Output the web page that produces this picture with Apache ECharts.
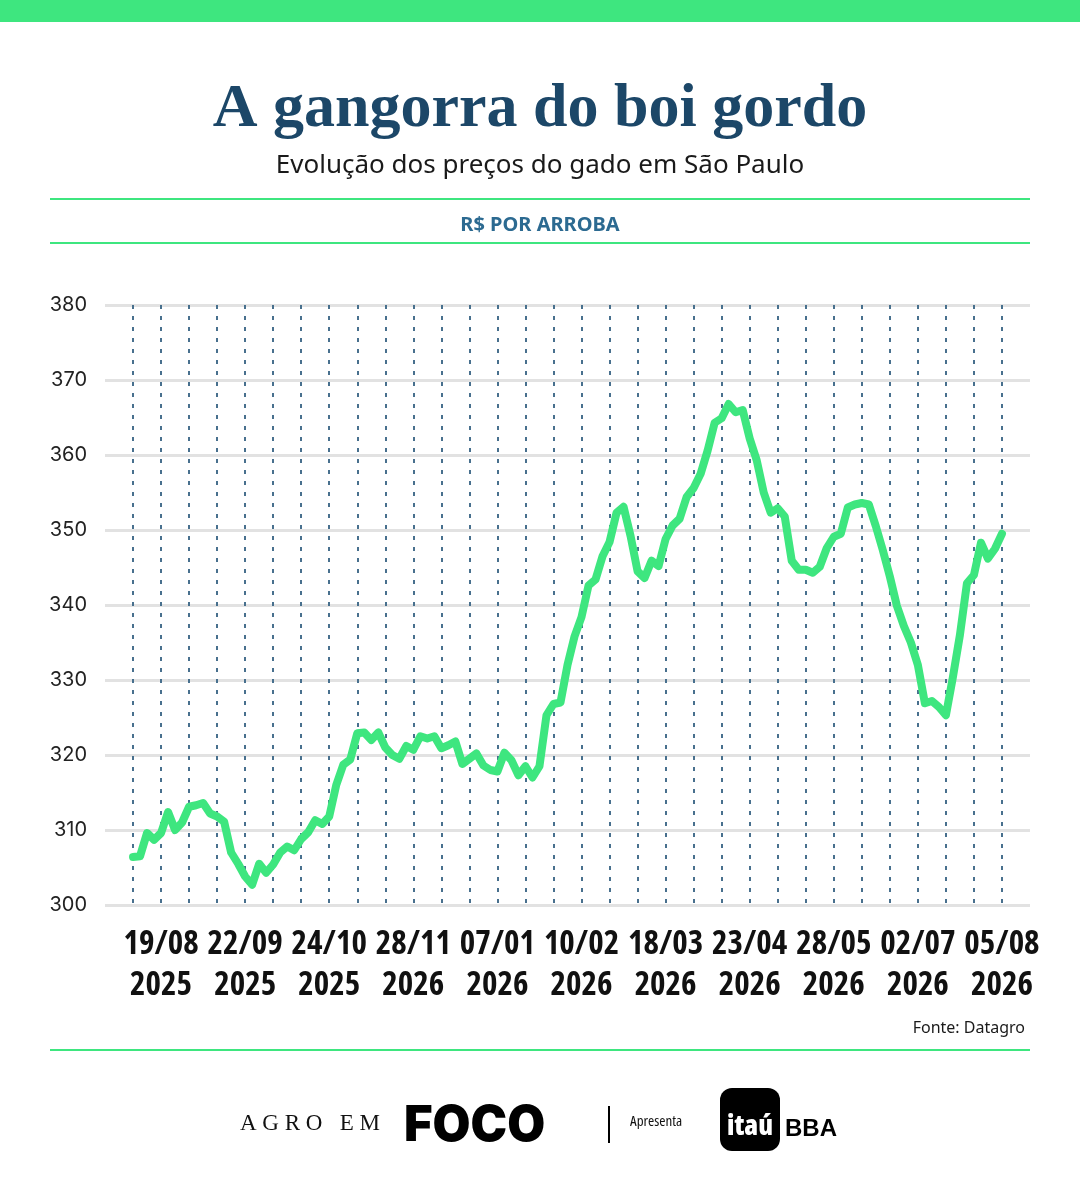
<!DOCTYPE html>
<html>
<head>
<meta charset="utf-8">
<script src="https://cdn.jsdelivr.net/npm/echarts@6/dist/echarts.min.js"></script>
<style>
  html, body { margin: 0; padding: 0; background: #ffffff; }
  #chart { width: 1080px; height: 1200px; }
</style>
</head>
<body>
<div id="chart"></div>
<script>
// tick labels shown under the axis (one every 12 points)
const tickLabels = [
    "19/08\n2025", "22/09\n2025", "24/10\n2025", "28/11\n2026", "07/01\n2026", "10/02\n2026",
    "18/03\n2026", "23/04\n2026", "28/05\n2026", "02/07\n2026", "05/08\n2026"
];

// boi gordo, R$ por arroba (one point every 2 trading days)
const prices = [
    306.4, 306.5, 309.6, 308.7, 309.6, 312.4, 310.0, 311.0, 313.1, 313.3,
    313.6, 312.2, 311.8, 311.1, 307.0, 305.5, 303.8, 302.7, 305.5, 304.3,
    305.4, 307.0, 307.8, 307.3, 308.8, 309.7, 311.3, 310.8, 311.8, 316.0,
    318.7, 319.4, 322.9, 323.0, 322.0, 323.0, 321.0, 320.0, 319.5, 321.2,
    320.7, 322.5, 322.2, 322.5, 320.9, 321.3, 321.8, 318.8, 319.5, 320.2,
    318.6, 318.0, 317.8, 320.3, 319.3, 317.3, 318.5, 317.0, 318.5, 325.3,
    326.8, 327.0, 332.0, 335.8, 338.4, 342.6, 343.4, 346.5, 348.4, 352.3,
    353.1, 349.2, 344.5, 343.6, 345.9, 345.2, 348.8, 350.6, 351.5, 354.4,
    355.6, 357.5, 360.6, 364.3, 364.9, 366.8, 365.7, 366.0, 362.2, 359.3,
    355.0, 352.3, 352.9, 351.8, 345.9, 344.7, 344.7, 344.3, 345.1, 347.6,
    349.1, 349.5, 353.0, 353.4, 353.6, 353.4, 350.5, 347.3, 343.8, 339.9,
    337.2, 335.0, 332.0, 326.9, 327.2, 326.4, 325.3, 330.4, 336.0, 342.9,
    344.0, 348.3, 346.2, 347.5, 349.5
];

const firstLabelIndex = 4;
const labelStep = 12;

const green = "#3ee67f";
const navy = "#1c4768";
const narrow = "'Open Sans', sans-serif";

var chart = echarts.init(document.getElementById("chart"));

chart.setOption({
    backgroundColor: "#ffffff",
    animation: false,
    title: [{
        text: "A gangorra do boi gordo",
        left: "center",
        top: 74,
        textStyle: {
            fontFamily: "Liberation Serif",
            fontWeight: "bold",
            fontSize: 62,
            color: navy
        }
    }, {
        text: "Evolução dos preços do gado em São Paulo",
        left: "center",
        top: 148,
        textStyle: {
            fontFamily: "Noto Sans",
            fontWeight: "normal",
            fontSize: 26,
            color: "#1a1a1a"
        }
    }, {
        text: "R$ POR ARROBA",
        left: "center",
        top: 210,
        textStyle: {
            fontFamily: "Noto Sans",
            fontWeight: "bold",
            fontSize: 20,
            color: "#2c6a91"
        }
    }, {
        text: "Fonte: Datagro",
        right: 50,
        top: 1015,
        textStyle: {
            fontFamily: "Noto Sans",
            fontWeight: "normal",
            fontSize: 16,
            color: "#1a1a1a"
        }
    }],
    grid: {
        left: 105,
        right: 50,
        top: 305,
        bottom: 295
    },
    xAxis: {
        type: "value",
        min: -4,
        max: 128,
        interval: 4,
        axisLine: { show: false },
        axisTick: { show: false },
        splitLine: {
            show: true,
            showMinLine: false,
            showMaxLine: false,
            lineStyle: {
                color: "#48708e",
                width: 2,
                type: [4, 7]
            }
        },
        axisLabel: {
            margin: 19,
            fontFamily: narrow,
            fontStyle: "condensed",
            fontWeight: "bold",
            fontSize: 33,
            lineHeight: 41,
            color: "#111111",
            formatter: function (v) {
                const k = (v - firstLabelIndex) / labelStep;
                if (Number.isInteger(k) && k >= 0 && k < tickLabels.length) return tickLabels[k];
                return "";
            }
        }
    },
    yAxis: {
        type: "value",
        min: 300,
        max: 380,
        interval: 10,
        axisLine: { show: false },
        axisTick: { show: false },
        splitLine: {
            lineStyle: {
                color: "#e2e2e2",
                width: 3
            }
        },
        axisLabel: {
            margin: 18,
            fontFamily: "Inter",
            fontSize: 20,
            color: "#222222"
        }
    },
    series: [{
        type: "line",
        data: prices.map((v, i) => [i, v]),
        showSymbol: false,
        symbol: "none",
        lineStyle: {
            color: green,
            width: 8,
            cap: "round",
            join: "round"
        },
        z: 5
    }],
    graphic: [
        { type: "rect", shape: { x: 0, y: 0, width: 1080, height: 22 }, style: { fill: green } },
        { type: "rect", shape: { x: 50, y: 198, width: 980, height: 2 }, style: { fill: green } },
        { type: "rect", shape: { x: 50, y: 242, width: 980, height: 2 }, style: { fill: green } },
        { type: "rect", shape: { x: 50, y: 1049, width: 980, height: 2 }, style: { fill: green } },
        // footer logos
        {
            type: "text", left: 240, top: 1112,
            style: { text: "A G R O   E M", font: "23px 'Liberation Serif'", fill: "#111111" }
        },
        {
            type: "text", left: 404, top: 1102,
            style: { text: "FOCO", font: "900 49px 'Inter', 'Liberation Sans'", fill: "#000000" }
        },
        { type: "rect", shape: { x: 608, y: 1106, width: 2, height: 37 }, style: { fill: "#000000" } },
        {
            type: "text", left: 630, top: 1114,
            style: { text: "Apresenta", font: "condensed 15px " + narrow, fill: "#111111" }
        },
        {
            type: "rect", shape: { x: 720, y: 1088, width: 60, height: 63, r: 12 },
            style: { fill: "#000000" }
        },
        {
            type: "text", x: 750, y: 1127,
            style: { text: "itaú", font: "condensed 800 28px " + narrow, fill: "#ffffff", align: "center", verticalAlign: "middle" }
        },
        {
            type: "text", left: 785, top: 1117,
            style: { text: "BBA", font: "bold 24px 'Liberation Sans'", fill: "#000000" }
        }
    ]
});
</script>
</body>
</html>
